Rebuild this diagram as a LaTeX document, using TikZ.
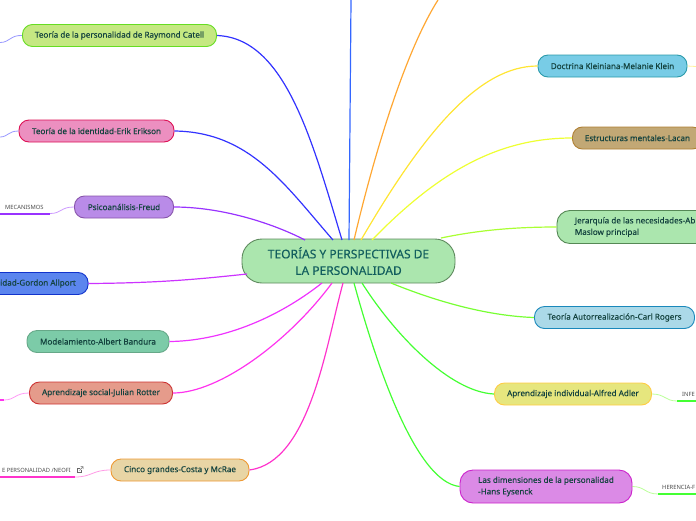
\documentclass[tikz,border=0pt]{standalone}
\usepackage{fontspec}
\setmainfont{Noto Sans}
\newfontfamily\temafont[FakeBold=0.25]{Noto Sans}
\usetikzlibrary{positioning,calc}
\definecolor{RamaAzul}{HTML}{3333FF}
\definecolor{RamaCielo}{HTML}{3366FF}
\definecolor{RamaMorado}{HTML}{9933FF}
\definecolor{RamaLila}{HTML}{CC33FF}
\definecolor{RamaMagenta}{HTML}{EE33FF}
\definecolor{RamaFucsia}{HTML}{FF33EE}
\definecolor{RamaRosa}{HTML}{FF33CC}
\definecolor{RamaVerde}{HTML}{44FF33}
\definecolor{RamaPasto}{HTML}{77FF33}
\definecolor{RamaLima}{HTML}{AAFF33}
\definecolor{RamaAmarillo}{HTML}{EEFF33}
\definecolor{RamaOro}{HTML}{FFE533}
\definecolor{RamaNaranja}{HTML}{FFA733}
\definecolor{TextoNodo}{HTML}{14433F}
\definecolor{TextoCentral}{HTML}{125E5E}
\definecolor{CentralFill}{HTML}{ABE6AE}
\definecolor{CentralBorde}{HTML}{5E8A5E}
\tikzset{
  tema/.style    = {draw, rounded corners=10pt, align=center, font=\temafont\fontsize{8.1}{11.5}\selectfont,
                    text=TextoNodo, minimum height=22pt, inner sep=2pt, line width=0.9pt},
  tema2/.style   = {tema, rounded corners=13pt, minimum height=33pt},
  central/.style = {draw=CentralBorde, fill=CentralFill, rounded corners=20pt,
                    align=center, font=\temafont\fontsize{12}{16.5}\selectfont, text=TextoCentral,
                    minimum width=213pt, minimum height=44pt, line width=0.9pt},
  rama/.style    = {line width=1.2pt},
  subrama/.style = {line width=0.8pt, opacity=0.5},
  subraya/.style = {line width=2pt},
  etiq/.style    = {font=\fontsize{5.8}{6}\selectfont, text=black!70, inner sep=0pt},
}
\begin{document}
\begin{tikzpicture}[x=1pt,y=-1pt]
  \useasboundingbox (0,0) rectangle (696,520);
  \node[central] (raiz) at (348.5,261) {TEORÍAS Y PERSPECTIVAS DE\\LA PERSONALIDAD};
  % izquierda
  \node[tema, draw={rgb,255:red,102;green,221;blue,34}, fill={rgb,255:red,197;green,232;blue,130}, minimum width=194pt] (catell) at (119.5,35.5) {Teoría de la personalidad de Raymond Catell};
  \node[tema, draw={rgb,255:red,221;green,17;blue,85}, fill={rgb,255:red,236;green,143;blue,192}, minimum width=155pt] (erikson) at (96.5,131) {Teoría de la identidad-Erik Erikson};
  \node[tema, draw={rgb,255:red,136;green,85;blue,170}, fill={rgb,255:red,185;green,139;blue,232}, minimum width=99pt] (freud) at (124,207) {Psicoanálisis-Freud};
  \node[tema, draw={rgb,255:red,17;green,51;blue,204}, fill={rgb,255:red,91;green,133;blue,238}, minimum width=100pt, anchor=east, align=right] (allport) at (88.5,283.5) {idad-Gordon Allport};
  \node[tema, draw={rgb,255:red,102;green,168;blue,136}, fill={rgb,255:red,124;green,203;blue,168}, minimum width=142pt] (bandura) at (98,341.5) {Modelamiento-Albert Bandura};
  \node[tema, draw={rgb,255:red,204;green,51;blue,51}, fill={rgb,255:red,229;green,155;blue,139}, minimum width=143pt] (rotter) at (101,393) {Aprendizaje social-Julian Rotter};
  \node[tema, draw={rgb,255:red,238;green,153;blue,51}, fill={rgb,255:red,232;green,213;blue,165}, minimum width=138pt] (costa) at (180,470) {Cinco grandes-Costa y McRae};
  % derecha
  \node[tema, draw={rgb,255:red,42;green,154;blue,170}, fill={rgb,255:red,120;green,204;blue,230}, minimum width=149pt] (klein) at (612.5,66) {Doctrina Kleiniana-Melanie Klein};
  \node[tema, draw={rgb,255:red,176;green,128;blue,51}, fill={rgb,255:red,194;green,168;blue,117}, minimum width=130pt, anchor=west] (lacan) at (572,138) {Estructuras mentales-Lacan};
  \node[tema2, draw={rgb,255:red,85;green,136;blue,85}, fill=CentralFill, minimum width=150pt, anchor=west, align=left, inner xsep=18pt] (maslow) at (556.5,227) {Jerarquía de las necesidades-Ab\\Maslow principal};
  \node[tema, draw={rgb,255:red,26;green,136;blue,187}, fill={rgb,255:red,171;green,217;blue,232}, minimum width=160pt] (rogers) at (614.5,317.5) {Teoría Autorrealización-Carl Rogers};
  \node[tema, draw={rgb,255:red,255;green,204;blue,68}, fill={rgb,255:red,230;green,230;blue,126}, minimum width=157pt] (adler) at (573,394) {Aprendizaje individual-Alfred Adler};
  \node[tema2, draw={rgb,255:red,204;green,34;blue,204}, fill={rgb,255:red,219;green,138;blue,230}, minimum width=172pt, align=left] (eysenck) at (546,486.5) {Las dimensiones de la personalidad\\-Hans Eysenck};
  % ramas
  \draw[rama, RamaAzul] (catell.east) .. controls (285,38) and (312,140) .. (342,240);
  \draw[rama, RamaAzul] (erikson.east) .. controls (250,132) and (285,185) .. (333,240);
  \draw[rama, RamaMorado] (freud.east) .. controls (220,207) and (270,222) .. (305,240);
  \draw[rama, RamaLila] (allport.east) .. controls (160,283) and (200,279) .. (247,274);
  \draw[rama, RamaMagenta] (bandura.east) .. controls (220,341) and (275,320) .. (322,283);
  \draw[rama, RamaFucsia] (rotter.east) .. controls (220,393) and (290,340) .. (332,283);
  \draw[rama, RamaRosa] (costa.east) .. controls (310,462) and (326,345) .. (343,283);
  \draw[rama, RamaVerde] (eysenck.west) .. controls (415,482) and (375,360) .. (354,283);
  \draw[rama, RamaVerde] (adler.west) .. controls (450,392) and (395,335) .. (362,283);
  \draw[rama, RamaPasto] (rogers.west) .. controls (490,316) and (440,303) .. (391,283);
  \draw[rama, RamaLima] (maslow.west) .. controls (505,227) and (470,232) .. (441,238);
  \draw[rama, RamaAmarillo] (lacan.west) .. controls (500,138) and (440,170) .. (372,240);
  \draw[rama, RamaOro] (klein.west) .. controls (480,66) and (425,130) .. (361,240);
  \coordinate (topO) at (438,0);
  \coordinate (topA) at (351,0);
  \draw[rama, RamaNaranja] (topO) .. controls (400,60) and (368,180) .. (354,240);
  \draw[rama, RamaCielo] (topA) -- (349,240);
  % subtemas
  \coordinate (subcatell) at (0,42.5);
  \coordinate (suberikson) at (0,137);
  \coordinate (subfreud) at (50,213.5);
  \coordinate (subrotter) at (4,400);
  \coordinate (subcosta) at (75,477);
  \coordinate (subadler) at (677,401);
  \coordinate (subeysenck) at (658,494);
  \coordinate (kleinfin) at (696,66.5);
  \draw[subrama, RamaAzul] (catell.west) .. controls (10,35) and (10,42.5) .. (subcatell);
  \draw[subrama, RamaAzul] (erikson.west) .. controls (8,131) and (8,137) .. (suberikson);
  \draw[subrama, RamaMorado] (freud.west) .. controls (60,207) and (62,213.5) .. (subfreud);
  \draw[subrama, RamaFucsia] (rotter.west) .. controls (15,393) and (15,400) .. (subrotter);
  \draw[subrama, RamaRosa] (costa.west) .. controls (92,470) and (92,477) .. (subcosta);
  \draw[subrama, RamaPasto] (adler.east) .. controls (665,394) and (665,401) .. (subadler);
  \draw[subrama, RamaPasto] (eysenck.east) .. controls (645,486.5) and (645,494) .. (subeysenck);
  \draw[subrama, RamaOro] (klein.east) -- (kleinfin);
  \draw[subraya, RamaMorado] (subfreud) -- (0,213.5);
  \draw[subraya, RamaFucsia] (subrotter) -- (0,400);
  \draw[subraya, RamaRosa] (subcosta) -- (0,477);
  \draw[subraya, RamaVerde] (subadler) -- (696,401);
  \draw[subraya, RamaVerde] (subeysenck) -- (696,494);
  \node[etiq, anchor=base west] (mecanismos) at (5,209) {MECANISMOS};
  \node[etiq, anchor=base east] (neofi) at (71,472) {E PERSONALIDAD /NEOFI};
  \node[etiq, anchor=base west] (infe) at (682,396) {INFE};
  \node[etiq, anchor=base west] (herencia) at (662,489.5) {HERENCIA-F};
  % icono enlace
  \draw[line width=0.5pt, black!60] (81.5,469.5) -- (81.5,472.5) -- (77.5,472.5) -- (77.5,468) -- (80,468);
  \draw[line width=0.5pt, black!60] (79.5,470.5) -- (83,466.5) (80.5,466.5) -- (83,466.5) -- (83,469);
\end{tikzpicture}
\end{document}
